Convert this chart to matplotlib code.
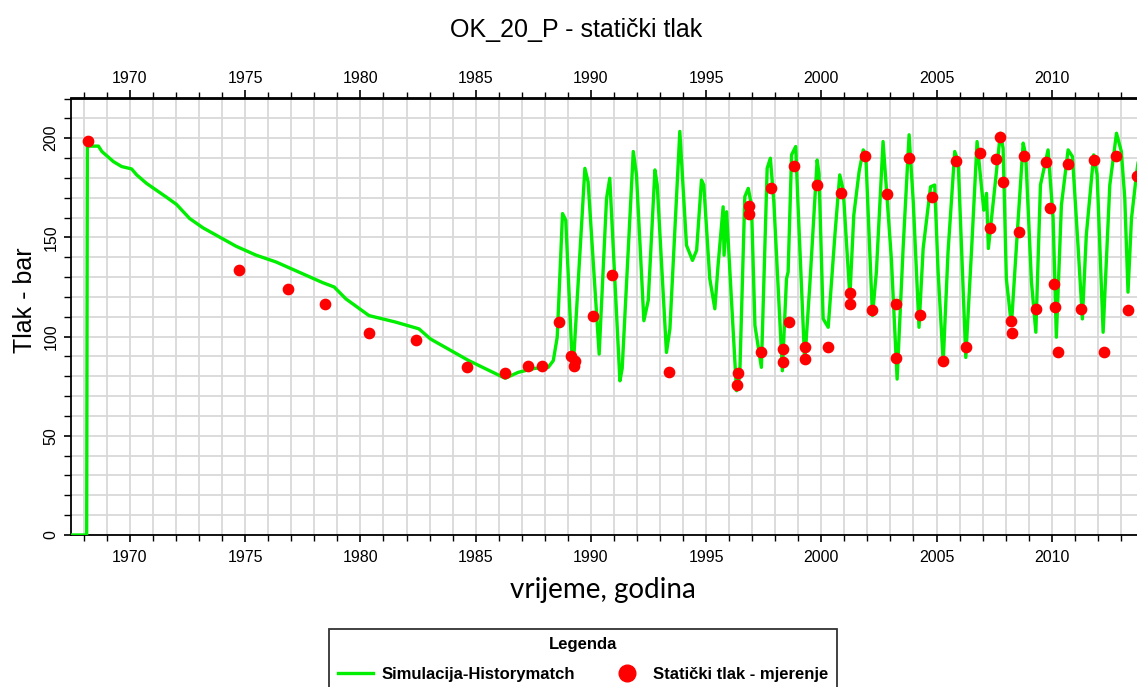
import matplotlib.pyplot as plt
from matplotlib.lines import Line2D
from matplotlib.ticker import MultipleLocator
import numpy as np

# Simulated pressure (history match), bar
sim_years = [1967.4, 1968.12, 1968.15, 1968.63, 1968.78, 1969.28, 1969.64, 1970.07, 1970.29,
             1970.72, 1971.59, 1972.02, 1972.59, 1973.17, 1973.96, 1974.61, 1975.48, 1976.34,
             1977.49, 1978.36, 1978.86, 1979.37, 1980.37, 1981.53, 1982.54, 1983.04, 1983.54,
             1984.7, 1986.28, 1986.85, 1987.57, 1988.15, 1988.37, 1988.54, 1988.77, 1988.91,
             1989.16, 1989.23, 1989.74, 1989.88, 1990.36, 1990.68, 1990.82, 1991.26, 1991.36,
             1991.84, 1991.98, 1992.3, 1992.49, 1992.78, 1992.88, 1993.28, 1993.43, 1993.86,
             1994.15, 1994.41, 1994.59, 1994.8, 1994.9, 1995.16, 1995.38, 1995.52, 1995.74,
             1995.78, 1995.89, 1996.06, 1996.32, 1996.46, 1996.68, 1996.83, 1996.97, 1997.12,
             1997.4, 1997.65, 1997.79, 1997.94, 1998.13, 1998.31, 1998.49, 1998.56, 1998.71,
             1998.89, 1998.99, 1999.28, 1999.5, 1999.82, 1999.9, 2000.08, 2000.3, 2000.59,
             2000.8, 2000.95, 2001.24, 2001.41, 2001.64, 2001.82, 2001.93, 2002.22, 2002.39,
             2002.68, 2002.83, 2003.04, 2003.29, 2003.55, 2003.81, 2003.99, 2004.24, 2004.42,
             2004.74, 2004.92, 2005.07, 2005.29, 2005.5, 2005.79, 2005.94, 2006.27, 2006.52,
             2006.76, 2006.99, 2007.05, 2007.17, 2007.25, 2007.6, 2007.77, 2007.89, 2008.03,
             2008.25, 2008.47, 2008.76, 2008.87, 2009.12, 2009.31, 2009.51, 2009.84, 2010.06,
             2010.2, 2010.42, 2010.71, 2010.9, 2011.14, 2011.33, 2011.5, 2011.82, 2011.97,
             2012.23, 2012.52, 2012.81, 2013.02, 2013.17, 2013.31, 2013.46, 2013.69, 2013.8]
sim_values = [0, 0, 196, 196, 193.3, 188.2, 185.7, 184.5, 181.5,
              177.2, 170.2, 166.6, 159.5, 154.8, 149.7, 145.5, 141, 137.6,
              131.7, 127.2, 125, 119, 110.6, 107.3, 103.9, 98.8, 95.5,
              87.9, 79, 82, 84, 84.5, 87.9, 99.7, 162, 158.7,
              95, 83.6, 184.8, 178, 91.2, 169.6, 179.8, 77.7, 84,
              193.3, 181.5, 108, 118.2, 184, 176.4, 92, 103.9, 203.4,
              146, 138.4, 143.5, 178.9, 176.4, 129.2, 114, 135.9, 165.4,
              141, 162.9, 127.5, 72.7, 80, 170.5, 174.7, 166.3, 105.6,
              84.5, 184.8, 189.9, 168, 124.1, 82.8, 129.2, 132.5, 191.6,
              195.8, 166.3, 87, 125.8, 189, 182, 109, 104.7, 151.1,
              181.5, 174, 120, 161.2, 183.1, 194.1, 191.6, 110.6, 132.5,
              198.3, 173.9, 139.3, 78.6, 144.4, 201.7, 168, 104.7, 144.4,
              175.5, 176.4, 132.5, 87, 142.7, 193.3, 188.2, 89.5, 143.5,
              198.3, 171.3, 163.7, 172.2, 144.4, 183.1, 202.5, 194.9, 129.2,
              105.6, 146, 197.5, 191.6, 127.5, 102.2, 176.4, 194.1, 159.5,
              99.7, 166.3, 194.1, 190.7, 146, 108.9, 151.1, 191.6, 181.5,
              102.2, 176.4, 202.5, 193.3, 169.6, 122.4, 159.5, 183.1, 192]

# Measured static pressure, bar
meas_years = [1968.16, 1974.73, 1976.84, 1978.46, 1980.36, 1982.42, 1984.61, 1986.28, 1987.26,
              1987.87, 1988.61, 1989.12, 1989.28, 1989.31, 1990.09, 1990.9, 1993.4, 1996.35,
              1996.39, 1996.87, 1996.87, 1997.38, 1997.8, 1998.32, 1998.32, 1998.59, 1998.82,
              1999.28, 1999.28, 1999.82, 2000.27, 2000.85, 2001.24, 2001.24, 2001.89, 2002.22,
              2002.87, 2003.22, 2003.26, 2003.8, 2004.3, 2004.82, 2005.26, 2005.86, 2006.27,
              2006.88, 2007.3, 2007.6, 2007.77, 2007.89, 2008.22, 2008.28, 2008.58, 2008.8,
              2009.33, 2009.74, 2009.91, 2010.09, 2010.13, 2010.27, 2010.71, 2011.29, 2011.82,
              2012.27, 2012.78, 2013.33, 2013.69]
meas_values = [198.6, 133.4, 124.1, 116.5, 101.7, 98.5, 84.5, 81.4, 85.0,
               85.0, 107.3, 90, 85, 87.9, 110.3, 131.2, 82.3, 75.7,
               81.4, 165.9, 162, 92.4, 174.7, 93.6, 87, 107.3, 186.2,
               94.6, 88.7, 176.4, 94.6, 172.2, 122.1, 116.5, 191.2, 113.2,
               171.7, 116.5, 89.2, 190.2, 111, 170.2, 87.5, 188.5, 94.6,
               192.7, 154.5, 189.4, 200.6, 178.1, 108.1, 101.7, 152.8, 191.2,
               114, 188.2, 164.6, 126.6, 114.8, 92.4, 187, 114, 189,
               92.4, 191.1, 113.2, 181.1]

major_years = list(range(1970, 2015, 5))

plt.rcParams['font.family'] = ['Liberation Sans', 'DejaVu Sans']

fig = plt.figure(figsize=(11.37, 6.87), dpi=100)
ax = fig.add_axes([71 / 1137, 1 - 535 / 687, 1 - 71 / 1137, (535 - 98.5) / 687])

green = '#00ee00'
line, = ax.plot(sim_years, sim_values, color=green, lw=2.4, zorder=3,
                label='Simulacija-Historymatch')
pts = ax.scatter(meas_years, meas_values, s=55, color='#ff0000', zorder=4,
                 label='Statički tlak - mjerenje')

ax.set_xlim(1967.44, 2013.7)
ax.set_ylim(0, 220)

ax.set_xticks(major_years)
ax.xaxis.set_minor_locator(MultipleLocator(1))
ax.yaxis.set_major_locator(MultipleLocator(50))
ax.yaxis.set_minor_locator(MultipleLocator(10))
ax.grid(True, which='both', color='#d9d9d9', lw=1.3, zorder=0)
ax.set_axisbelow(True)

for s in ['left', 'bottom', 'top']:
    ax.spines[s].set_linewidth(1.3)
ax.spines['right'].set_visible(False)

ax.tick_params(axis='x', which='major', length=5, width=1.2, labelsize=11.5, pad=6)
ax.tick_params(axis='x', which='minor', length=4, width=1.0)
ax.tick_params(axis='y', which='major', length=5, width=1.2, labelsize=11.5, pad=4)
ax.tick_params(axis='y', which='minor', length=5, width=1.0)
for lbl in ax.get_yticklabels():
    lbl.set_rotation(90)
    lbl.set_va('center')

top = ax.secondary_xaxis('top')
top.set_xticks(major_years)
top.xaxis.set_minor_locator(MultipleLocator(1))
top.tick_params(axis='x', which='major', length=5.5, width=1.2, labelsize=11.5, pad=3.5)
top.tick_params(axis='x', which='minor', length=4, width=1.0)
top.spines['top'].set_linewidth(1.3)

fig.text(576 / 1137, 1 - 30 / 687, 'OK_20_P - statički tlak', fontsize=18,
         ha='center', va='center')
fig.text(25 / 1137, 1 - 300 / 687, 'Tlak - bar', fontsize=18, rotation=90,
         ha='center', va='center')
fig.text(603 / 1137, 1 - 590 / 687, 'vrijeme, godina', fontsize=20,
         family=['Lato', 'DejaVu Sans'], ha='center', va='center')

handles = [Line2D([], [], color=green, lw=2.4),
           Line2D([], [], ls='', marker='o', markersize=12, color='#ff0000')]
leg = fig.legend(handles, [line.get_label(), pts.get_label()], title='Legenda',
                 ncol=2, loc='upper center', bbox_to_anchor=(583 / 1137, 1 - 629 / 687),
                 borderaxespad=0, frameon=True, fancybox=False, edgecolor='black',
                 borderpad=0.5, labelspacing=0.85, columnspacing=2.1, handlelength=2.1,
                 handletextpad=0.5,
                 prop={'weight': 'bold', 'size': 12},
                 title_fontproperties={'weight': 'bold', 'size': 12})
leg.get_frame().set_linewidth(1.3)

fig.savefig('out.png', dpi=100)
